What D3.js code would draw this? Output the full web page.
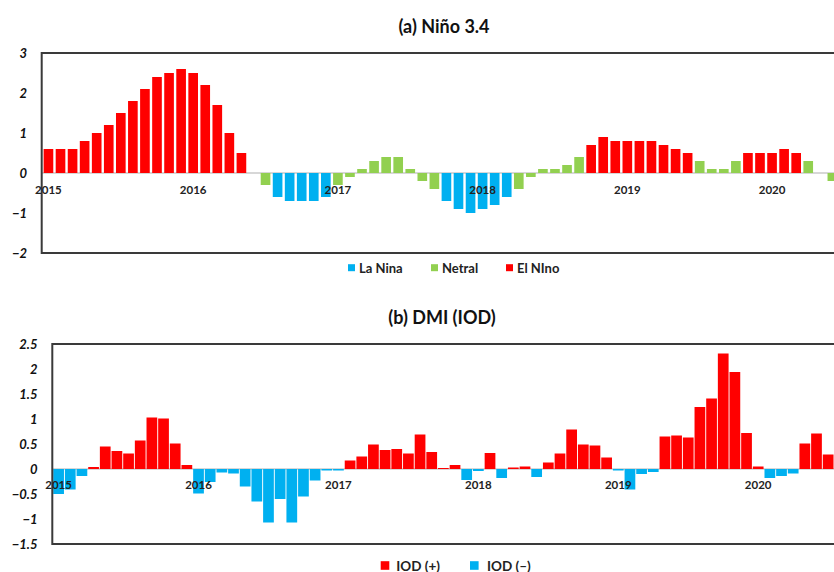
<!DOCTYPE html>
<html>
<head>
<meta charset="utf-8">
<script src="https://cdn.jsdelivr.net/npm/d3@7"></script>
<style>
  html, body { margin: 0; padding: 0; background: #fff; overflow: hidden; }
  svg { display: block; font-family: Lato, "Open Sans", sans-serif; }
</style>
</head>
<body>
<svg id="chart" width="834" height="572"></svg>
<script>
// ---------- DATA ----------
const months = d3.range(72).map(i => `${2015 + Math.floor(i / 12)}-${String(i % 12 + 1).padStart(2, "0")}`);
const yearLabels = ["2015", "2016", "2017", "2018", "2019", "2020"];

// (a) Niño 3.4 index, monthly from Jan 2015
const nino34 = [0.6, 0.6, 0.6, 0.8, 1.0, 1.2, 1.5, 1.8, 2.1, 2.4, 2.5, 2.6,
                2.5, 2.2, 1.7, 1.0, 0.5, 0.0, -0.3, -0.6, -0.7, -0.7, -0.7, -0.6,
                -0.3, -0.1, 0.1, 0.3, 0.4, 0.4, 0.1, -0.2, -0.4, -0.7, -0.9, -1.0,
                -0.9, -0.8, -0.6, -0.4, -0.1, 0.1, 0.1, 0.2, 0.4, 0.7, 0.9, 0.8,
                0.8, 0.8, 0.8, 0.7, 0.6, 0.5, 0.3, 0.1, 0.1, 0.3, 0.5, 0.5,
                0.5, 0.6, 0.5, 0.3, 0.0, -0.2];
// (b) DMI (IOD), monthly from Jan 2015
const dmi = [-0.50, -0.41, -0.14, 0.04, 0.45, 0.36, 0.31, 0.57, 1.03, 1.01, 0.51, 0.08,
             -0.49, -0.26, -0.07, -0.09, -0.35, -0.65, -1.07, -0.60, -1.07, -0.55, -0.23, -0.03,
             -0.03, 0.17, 0.25, 0.49, 0.38, 0.40, 0.31, 0.69, 0.34, 0.02, 0.08, -0.22,
             -0.04, 0.32, -0.18, 0.03, 0.05, -0.16, 0.13, 0.31, 0.79, 0.49, 0.47, 0.23,
             -0.03, -0.41, -0.10, -0.06, 0.65, 0.67, 0.63, 1.24, 1.41, 2.31, 1.94, 0.72,
             0.05, -0.18, -0.14, -0.09, 0.51, 0.71, 0.29];

const ninoTicks = [-2, -1, 0, 1, 2, 3];
const dmiTicks = [-1.5, -1, -0.5, 0, 0.5, 1, 1.5, 2, 2.5];
const ensoLegend = ["La Nina", "Netral", "El NIno"];
const iodLegend = ["IOD (+)", "IOD (\u2013)"];

// ---------- STYLE ----------
const RED = "#FF0000", BLUE = "#00B0F0", GREEN = "#92D050";
const svg = d3.select("#chart");

function bandScale(left, step, pIn, pOut) {
  return d3.scaleBand().domain(months)
    .range([left, left + step * (months.length - pIn + 2 * pOut)])
    .paddingInner(pIn).paddingOuter(pOut);
}

function panel(cfg) {
  const g = svg.append("g");
  const x = bandScale(cfg.left, cfg.step, cfg.pIn, cfg.pOut);
  const y = d3.scaleLinear().domain(cfg.domain).range([cfg.bottom, cfg.top]);
  const right = x.range()[1];

  // title
  svg.append("text").attr("x", cfg.titleX).attr("y", cfg.titleY)
    .attr("text-anchor", "middle").attr("dominant-baseline", "central")
    .attr("font-size", 18).attr("font-weight", "bold").attr("fill", "#111")
    .text(cfg.title);

  // zero line
  g.append("line").attr("x1", cfg.left).attr("x2", right)
    .attr("y1", y(0)).attr("y2", y(0)).attr("stroke", "#B0B0B0").attr("stroke-width", 1.2);

  // bars
  g.selectAll("rect.bar").data(cfg.values).join("rect").attr("class", "bar")
    .attr("x", (d, i) => x(months[i]))
    .attr("width", x.bandwidth())
    .attr("y", d => y(Math.max(0, d)))
    .attr("height", d => Math.abs(y(d) - y(0)))
    .attr("fill", d => cfg.color(d));

  // frame (top, left, bottom)
  g.append("path")
    .attr("d", `M${right},${cfg.top}H${cfg.left}V${cfg.bottom}H${right}`)
    .attr("fill", "none").attr("stroke", "#3A3A3A").attr("stroke-width", 2);

  // y axis labels
  const ya = g.append("g").attr("transform", `translate(${cfg.left},0)`)
    .call(d3.axisLeft(y).tickValues(cfg.ticks).tickSize(0).tickPadding(cfg.left - cfg.labelRight)
      .tickFormat(d => d3.format("")(d)));
  ya.select(".domain").remove();
  ya.selectAll("text").attr("font-size", 13).attr("font-weight", "bold")
    .attr("font-style", "italic").attr("fill", "#111").attr("font-family", "Lato, sans-serif");

  // year labels at the zero line
  const xa = g.append("g").attr("transform", `translate(0,${y(0)})`)
    .call(d3.axisBottom(x).tickValues(yearLabels.map(yr => yr + "-01"))
      .tickSize(0).tickPadding(cfg.yearPad).tickFormat(d => d.slice(0, 4)));
  xa.select(".domain").remove();
  xa.selectAll("text").attr("font-size", 11.5).attr("font-weight", "bold")
    .attr("fill", "#222").attr("font-family", "Lato, sans-serif");

  // legend
  const lg = svg.append("g");
  cfg.legend.forEach((name, i) => {
    const it = cfg.legendItems[i];
    lg.append("rect").attr("x", it.x).attr("y", cfg.legendY - it.s / 2)
      .attr("width", it.s).attr("height", it.s).attr("fill", it.c);
    lg.append("text").attr("x", it.x + it.s + it.gap).attr("y", cfg.legendY)
      .attr("dominant-baseline", "central").attr("font-size", cfg.legendFont)
      .attr("font-weight", "bold").attr("fill", "#222").text(name);
  });
}

panel({
  title: "(a) Ni\u00f1o 3.4", titleX: 444, titleY: 26,
  values: nino34, domain: [-2, 3], ticks: ninoTicks,
  left: 41.7, top: 53, bottom: 253, step: 12.06, pIn: 0.2, pOut: 0.16,
  labelRight: 27, yearPad: 13,
  color: d => d >= 0.5 ? RED : (d <= -0.5 ? BLUE : GREEN),
  legend: ensoLegend, legendY: 267.7, legendFont: 13,
  legendItems: [{x: 348, s: 7, c: BLUE, gap: 4}, {x: 431, s: 7, c: GREEN, gap: 4}, {x: 506, s: 7, c: RED, gap: 4}]
});

panel({
  title: "(b) DMI (IOD)", titleX: 442, titleY: 317,
  values: dmi, domain: [-1.5, 2.5], ticks: dmiTicks,
  left: 52.3, top: 344, bottom: 544, step: 11.66, pIn: 0.08, pOut: 0.08,
  labelRight: 37.5, yearPad: 12,
  color: d => d >= 0 ? RED : BLUE,
  legend: iodLegend, legendY: 565.5, legendFont: 13.5,
  legendItems: [{x: 380.7, s: 8.6, c: RED, gap: 7}, {x: 470, s: 8.6, c: BLUE, gap: 8.5}]
});
</script>
</body>
</html>
